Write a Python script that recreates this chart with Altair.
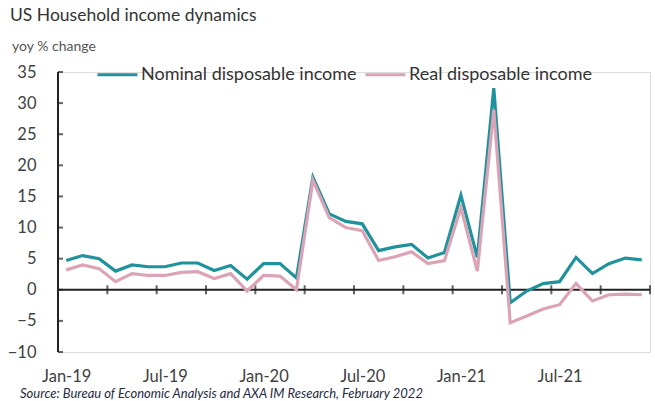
import json
import altair as alt
import pandas as pd

months = ["Jan-19", "Feb-19", "Mar-19", "Apr-19", "May-19", "Jun-19",
          "Jul-19", "Aug-19", "Sep-19", "Oct-19", "Nov-19", "Dec-19",
          "Jan-20", "Feb-20", "Mar-20", "Apr-20", "May-20", "Jun-20",
          "Jul-20", "Aug-20", "Sep-20", "Oct-20", "Nov-20", "Dec-20",
          "Jan-21", "Feb-21", "Mar-21", "Apr-21", "May-21", "Jun-21",
          "Jul-21", "Aug-21", "Sep-21", "Oct-21", "Nov-21", "Dec-21"]
nominal = [4.7, 5.5, 5.0, 3.0, 4.0, 3.7, 3.7, 4.3, 4.3, 3.1, 3.9, 1.7,
           4.2, 4.2, 1.9, 18.1, 12.2, 11.0, 10.6, 6.3, 6.9, 7.3, 5.1, 6.0,
           15.2, 5.2, 32.4, -2.1, -0.2, 1.0, 1.3, 5.2, 2.6, 4.2, 5.1, 4.8]
real = [3.2, 4.0, 3.4, 1.3, 2.6, 2.3, 2.3, 2.8, 2.9, 1.8, 2.6, -0.2,
        2.3, 2.2, 0.0, 17.6, 11.6, 10.0, 9.5, 4.7, 5.3, 6.1, 4.2, 4.7,
        13.2, 3.0, 28.9, -5.3, -4.2, -3.1, -2.4, 1.0, -1.8, -0.8, -0.7, -0.8]
series_names = ["Nominal disposable income", "Real disposable income"]
series_colors = ["#1f929c", "#dca3b6"]
y_ticks = [-10, -5, 0, 5, 10, 15, 20, 25, 30, 35]
x_label_months = ["Jan-19", "Jul-19", "Jan-20", "Jul-20", "Jan-21", "Jul-21"]

title_text = "US Household income dynamics"
subtitle_text = "yoy % change"
source_text = "Source: Bureau of Economic Analysis and AXA IM Research, February 2022"

FONT = "Lato"
AXIS_COLOR = "#222222"
W, H = 592, 280

rows = []
for name, vals in zip(series_names, [nominal, real]):
    for i, (m, v) in enumerate(zip(months, vals)):
        rows.append({"idx": i, "month": m, "series": name, "value": v})
df = pd.DataFrame(rows)

n = len(months)
xscale = alt.Scale(domain=[-0.5, n - 0.5], nice=False, zero=False)
yscale = alt.Scale(domain=[min(y_ticks), max(y_ticks)], nice=False, zero=False)
label_idx = [months.index(m) for m in x_label_months]
tick_pos = [k * 3 - 0.5 for k in range(1, n // 3 + 1)]

x_axis = alt.Axis(values=label_idx,
                  labelExpr=json.dumps(months) + "[datum.value]",
                  ticks=False, domain=False, grid=False,
                  labelPadding=16, labelFontSize=16.5, labelFont=FONT,
                  labelColor="#404040", title=None)
y_axis = alt.Axis(values=y_ticks, ticks=False, domain=False, grid=False,
                  labelPadding=22, labelFontSize=16.5, labelFont=FONT,
                  labelColor="#404040", title=None)

lines = alt.Chart(df).mark_line(strokeWidth=3.2).encode(
    x=alt.X("idx:Q", scale=xscale, axis=x_axis),
    y=alt.Y("value:Q", scale=yscale, axis=y_axis),
    color=alt.Color("series:N",
                    scale=alt.Scale(domain=series_names, range=series_colors),
                    legend=alt.Legend(orient="none", legendX=38, legendY=-19,
                                      direction="horizontal", title=None,
                                      symbolType="stroke", symbolSize=1600,
                                      symbolStrokeWidth=3, labelFontSize=18,
                                      labelFont=FONT, labelColor="#333333",
                                      labelOffset=2, columnPadding=2,
                                      labelLimit=0)),
    order=alt.Order("idx:Q"),
)

zero_line = alt.Chart(pd.DataFrame({"y": [0]})).mark_rule(
    color=AXIS_COLOR, strokeWidth=2).encode(
    y=alt.Y("y:Q", scale=yscale, axis=y_axis))

x_ticks = alt.Chart(pd.DataFrame({"x": tick_pos, "y": [0] * len(tick_pos)})).mark_tick(
    orient="vertical", size=9, thickness=2, color=AXIS_COLOR).encode(
    x=alt.X("x:Q", scale=xscale, axis=x_axis),
    y=alt.Y("y:Q", scale=yscale, axis=y_axis))

y_axis_line = alt.Chart(pd.DataFrame({"y1": [min(y_ticks)], "y2": [max(y_ticks)]})).mark_rule(
    color=AXIS_COLOR, strokeWidth=2).encode(
    x=alt.value(0),
    y=alt.Y("y1:Q", scale=yscale, axis=y_axis),
    y2="y2:Q")

y_tick_marks = alt.Chart(pd.DataFrame({"y": y_ticks})).mark_tick(
    orient="horizontal", size=5, thickness=2, color=AXIS_COLOR, xOffset=2.5).encode(
    x=alt.value(0),
    y=alt.Y("y:Q", scale=yscale, axis=y_axis))

title = alt.Chart(pd.DataFrame({"t": [title_text]})).mark_text(
    align="left", baseline="middle", font=FONT, fontSize=17.5, color="#333333").encode(
    x=alt.value(-48), y=alt.value(-56), text="t:N")

subtitle = alt.Chart(pd.DataFrame({"t": [subtitle_text]})).mark_text(
    align="left", baseline="middle", font=FONT, fontSize=14, color="#555555").encode(
    x=alt.value(-46), y=alt.value(-25), text="t:N")

source = alt.Chart(pd.DataFrame({"t": [source_text]})).mark_text(
    align="left", baseline="middle", font=FONT, fontSize=13, fontStyle="italic",
    color="#1f2a44").encode(
    x=alt.value(-38), y=alt.value(322), text="t:N")

chart = alt.layer(
    zero_line, x_ticks, y_axis_line, y_tick_marks, lines, title, subtitle, source
).properties(
    width=W, height=H,
    autosize="none",
    padding={"left": 58, "top": 72, "right": 5, "bottom": 49},
).configure_view(stroke=None).configure(background="white")

chart.save("out.html", embed_options={"renderer": "svg", "actions": False})
